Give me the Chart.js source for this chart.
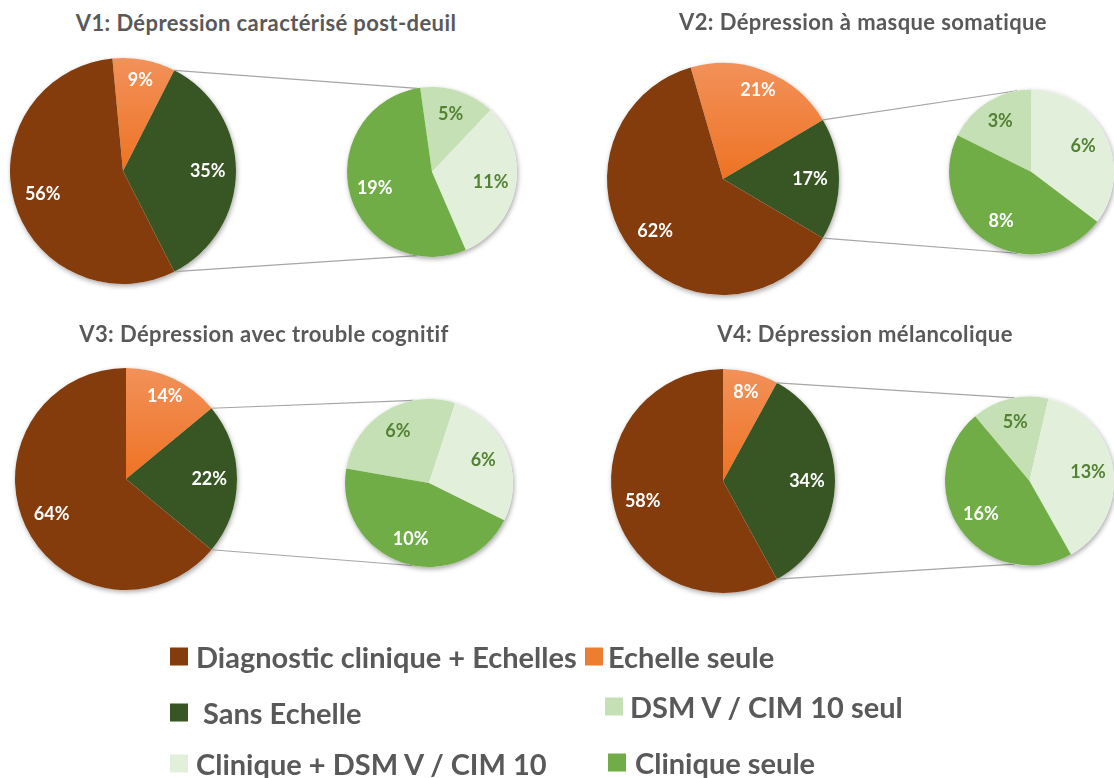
<!DOCTYPE html>
<html lang="fr">
<head>
<meta charset="utf-8">
<script src="https://cdn.jsdelivr.net/npm/chart.js@4.4.1/dist/chart.umd.min.js"></script>
<style>
  body { margin: 0; width: 1114px; height: 778px; background: #fff; position: relative; overflow: hidden; font-family: Lato, "Open Sans", sans-serif; }
  canvas { position: absolute; left: 0; top: 0; }
  .title { position: absolute; transform: translate(-50%, -50%); white-space: nowrap; font-weight: 700; font-size: 22px; letter-spacing: 0.4px; color: #595959; }
  .legend-item { position: absolute; transform: translateY(-50%); display: flex; align-items: center; white-space: nowrap; font-weight: 700; font-size: 29px; color: #595959; }
  .legend-item .box { width: 18px; height: 18px; }
</style>
</head>
<body>
<script>
// data
const titles = [
  "V1: Dépression caractérisé post-deuil",
  "V2: Dépression à masque somatique",
  "V3: Dépression avec trouble cognitif",
  "V4: Dépression mélancolique",
];
const mainLabels = ["Echelle seule", "Sans Echelle", "Diagnostic clinique + Echelles"];
const subLabels = ["DSM V / CIM 10 seul", "Clinique + DSM V / CIM 10", "Clinique seule"];

const v1Main = [9, 35, 56];
const v2Main = [21, 17, 62];
const v3Main = [14, 22, 64];
const v4Main = [8, 34, 58];

const v1Sub = [5, 11, 19];
const v2Sub = [3, 6, 8];
const v3Sub = [6, 6, 10];
const v4Sub = [5, 13, 16];

const legendOrder = [
  "Diagnostic clinique + Echelles", "Echelle seule", "Sans Echelle",
  "DSM V / CIM 10 seul", "Clinique + DSM V / CIM 10", "Clinique seule",
];

// colours
const colors = {
  "Echelle seule": "#ED7D31",
  "Sans Echelle": "#375623",
  "Diagnostic clinique + Echelles": "#843C0C",
  "DSM V / CIM 10 seul": "#C5E0B4",
  "Clinique + DSM V / CIM 10": "#E2EFDA",
  "Clinique seule": "#70AD47",
};

// layout
const W = 1114, H = 778;
const panels = [
  { main: v1Main, sub: v1Sub, mc: [123, 171, 113], sc: [432, 172, 85], subRot: -8, title: [266, 22] },
  { main: v2Main, sub: v2Sub, mc: [723, 179, 116], sc: [1034, 172, 85], subRot: -63.5, title: [863, 21] },
  { main: v3Main, sub: v3Sub, mc: [126, 479, 111], sc: [429, 483, 84], subRot: -80, title: [264, 333] },
  { main: v4Main, sub: v4Sub, mc: [723, 481, 112], sc: [1030, 481, 85], subRot: -40, title: [865, 333] },
];

function padFor([cx, cy, r]) {
  return { left: cx - r, top: cy - r, right: W - (cx + r), bottom: H - (cy + r) };
}

function newCanvas() {
  const c = document.createElement("canvas");
  c.width = W;
  c.height = H;
  document.body.appendChild(c);
  return c.getContext("2d");
}

const sliceLabels = {
  id: "sliceLabels",
  afterDatasetsDraw(chart, args, opts) {
    const { ctx } = chart;
    const values = chart.data.datasets[0].data;
    ctx.save();
    ctx.font = "bold 18px Lato";
    ctx.textAlign = "center";
    ctx.textBaseline = "middle";
    chart.getDatasetMeta(0).data.forEach((arc, i) => {
      const mid = (arc.startAngle + arc.endAngle) / 2;
      const d = arc.outerRadius * opts.dist[i];
      ctx.fillStyle = opts.colors[i];
      ctx.fillText(values[i] + "%", arc.x + Math.cos(mid) * d, arc.y + Math.sin(mid) * d);
    });
    ctx.restore();
  },
};

const pieShadow = {
  id: "pieShadow",
  beforeDatasetsDraw(chart) {
    const arc = chart.getDatasetMeta(0).data[0];
    if (!arc) return;
    const { ctx } = chart;
    ctx.save();
    ctx.shadowColor = "rgba(0,0,0,0.35)";
    ctx.shadowBlur = 5;
    ctx.shadowOffsetX = 1;
    ctx.shadowOffsetY = 2;
    ctx.fillStyle = "#fff";
    ctx.beginPath();
    ctx.arc(arc.x, arc.y, arc.outerRadius, 0, Math.PI * 2);
    ctx.fill();
    ctx.restore();
  },
};

function connectorFor(mainChart) {
  return {
    id: "connector",
    beforeDatasetsDraw(chart) {
      const arc = mainChart.getDatasetMeta(0).data[1];
      const sub = chart.getDatasetMeta(0).data[0];
      if (!arc || !sub) return;
      const { ctx } = chart;
      const R = arc.outerRadius, r = sub.outerRadius;
      const a1 = (-100 * Math.PI) / 180, a2 = (100 * Math.PI) / 180;
      ctx.save();
      ctx.strokeStyle = "#A6A6A6";
      ctx.lineWidth = 1.2;
      ctx.beginPath();
      ctx.moveTo(arc.x + R * Math.cos(arc.startAngle), arc.y + R * Math.sin(arc.startAngle));
      ctx.lineTo(sub.x + r * Math.cos(a1), sub.y + r * Math.sin(a1));
      ctx.moveTo(arc.x + R * Math.cos(arc.endAngle), arc.y + R * Math.sin(arc.endAngle));
      ctx.lineTo(sub.x + r * Math.cos(a2), sub.y + r * Math.sin(a2));
      ctx.stroke();
      ctx.restore();
    },
  };
}

function orangeFill(chart) {
  const a = chart.chartArea;
  if (!a) return colors["Echelle seule"];
  const g = chart.ctx.createLinearGradient(0, a.top, 0, (a.top + a.bottom) / 2);
  g.addColorStop(0, "#F29159");
  g.addColorStop(1, "#EE7324");
  return g;
}

const baseOptions = {
  responsive: false,
  animation: false,
  devicePixelRatio: 1,
  events: [],
  plugins: { legend: { display: false }, tooltip: { enabled: false } },
};

panels.forEach((p, k) => {
  const t = document.createElement("div");
  t.className = "title";
  t.textContent = titles[k];
  t.style.left = p.title[0] + "px";
  t.style.top = p.title[1] + "px";
  document.body.appendChild(t);

  const rot = 90 - (p.main[1] * 3.6) / 2 - p.main[0] * 3.6;
  const mainChart = new Chart(newCanvas(), {
    type: "pie",
    data: {
      labels: mainLabels,
      datasets: [{
        data: p.main,
        backgroundColor: (c) => (c.dataIndex === 0 ? orangeFill(c.chart) : colors[mainLabels[c.dataIndex]]),
        borderWidth: 0,
      }],
    },
    options: {
      ...baseOptions,
      rotation: rot,
      layout: { padding: padFor(p.mc) },
      plugins: {
        ...baseOptions.plugins,
        sliceLabels: { dist: [0.82, 0.75, 0.74], colors: ["#fff", "#fff", "#fff"] },
      },
    },
    plugins: [pieShadow, sliceLabels],
  });

  new Chart(newCanvas(), {
    type: "pie",
    data: {
      labels: subLabels,
      datasets: [{
        data: p.sub,
        backgroundColor: subLabels.map((l) => colors[l]),
        borderWidth: 0,
      }],
    },
    options: {
      ...baseOptions,
      rotation: p.subRot,
      layout: { padding: padFor(p.sc) },
      plugins: {
        ...baseOptions.plugins,
        sliceLabels: { dist: [0.72, 0.7, 0.7], colors: ["#548235", "#548235", "#fff"] },
      },
    },
    plugins: [connectorFor(mainChart), pieShadow, sliceLabels],
  });
});

// legend
const legendPos = [
  [170, 656, 8], [585, 656, 5], [170, 712, 15],
  [605, 706, 7], [170, 763, 8], [608, 762, 9],
];
legendOrder.forEach((name, i) => {
  const [x, y, gap] = legendPos[i];
  const item = document.createElement("div");
  item.className = "legend-item";
  item.style.left = x + "px";
  item.style.top = y + "px";
  item.innerHTML = `<span class="box" style="background:${colors[name]};margin-right:${gap}px"></span><span>${name}</span>`;
  document.body.appendChild(item);
});
</script>
</body>
</html>
